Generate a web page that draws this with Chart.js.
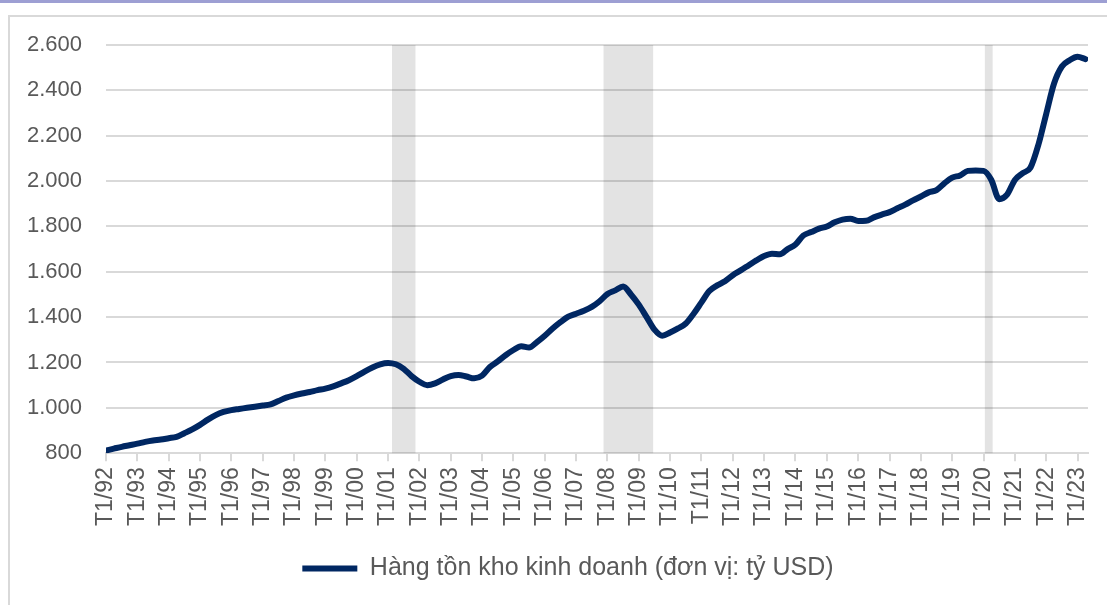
<!DOCTYPE html>
<html>
<head>
<meta charset="utf-8">
<script src="https://cdn.jsdelivr.net/npm/chart.js@4.4.0/dist/chart.umd.min.js"></script>
<style>
  html, body { margin: 0; padding: 0; background: #fff; }
  body { width: 1107px; height: 605px; position: relative; overflow: hidden; }
  #topbar { position: absolute; left: 0; top: 0; width: 1107px; height: 3px; background: #9d9fd3; }
  #frame { position: absolute; left: 8px; top: 15px; right: 0; bottom: 0; border-left: 2px solid #d9d9d9; border-top: 2px solid #d9d9d9; }
  #wrap { position: absolute; left: 0; top: 0; width: 1107px; height: 605px; }
</style>
</head>
<body>
<div id="topbar"></div>
<div id="frame"></div>
<div id="wrap"><canvas id="inventoryChart"></canvas></div>
<script>
// Quarterly readings (first month of each quarter)
const quarters = [
    '1992-01', '1992-04', '1992-07', '1992-10',
    '1993-01', '1993-04', '1993-07', '1993-10',
    '1994-01', '1994-04', '1994-07', '1994-10',
    '1995-01', '1995-04', '1995-07', '1995-10',
    '1996-01', '1996-04', '1996-07', '1996-10',
    '1997-01', '1997-04', '1997-07', '1997-10',
    '1998-01', '1998-04', '1998-07', '1998-10',
    '1999-01', '1999-04', '1999-07', '1999-10',
    '2000-01', '2000-04', '2000-07', '2000-10',
    '2001-01', '2001-04', '2001-07', '2001-10',
    '2002-01', '2002-04', '2002-07', '2002-10',
    '2003-01', '2003-04', '2003-07', '2003-10',
    '2004-01', '2004-04', '2004-07', '2004-10',
    '2005-01', '2005-04', '2005-07', '2005-10',
    '2006-01', '2006-04', '2006-07', '2006-10',
    '2007-01', '2007-04', '2007-07', '2007-10',
    '2008-01', '2008-04', '2008-07', '2008-10',
    '2009-01', '2009-04', '2009-07', '2009-10',
    '2010-01', '2010-04', '2010-07', '2010-10',
    '2011-01', '2011-04', '2011-07', '2011-10',
    '2012-01', '2012-04', '2012-07', '2012-10',
    '2013-01', '2013-04', '2013-07', '2013-10',
    '2014-01', '2014-04', '2014-07', '2014-10',
    '2015-01', '2015-04', '2015-07', '2015-10',
    '2016-01', '2016-04', '2016-07', '2016-10',
    '2017-01', '2017-04', '2017-07', '2017-10',
    '2018-01', '2018-04', '2018-07', '2018-10',
    '2019-01', '2019-04', '2019-07', '2019-10',
    '2020-01', '2020-04', '2020-07', '2020-10',
    '2021-01', '2021-04', '2021-07', '2021-10',
    '2022-01', '2022-04', '2022-07', '2022-10',
    '2023-01', '2023-04'
];

// Business inventories, billion USD
const inventories = [
    812, 820, 828, 835,
    842, 850, 856, 860,
    866, 872, 888, 905,
    925, 948, 968, 982,
    990, 995, 1000, 1005,
    1010, 1015, 1030, 1045,
    1055, 1063, 1070, 1078,
    1085, 1095, 1108, 1122,
    1140, 1160, 1178, 1192,
    1198, 1192, 1172, 1140,
    1115, 1100, 1108, 1125,
    1140, 1145, 1138, 1130,
    1142, 1180, 1205, 1232,
    1255, 1272, 1266, 1290,
    1318, 1350, 1378, 1402,
    1415, 1428, 1445, 1470,
    1502, 1518, 1535, 1500,
    1455, 1400, 1345, 1318,
    1332, 1350, 1372, 1415,
    1465, 1515, 1540, 1558,
    1585, 1606, 1628, 1650,
    1670, 1680, 1677, 1700,
    1720, 1760, 1775, 1790,
    1800, 1818, 1830, 1834,
    1824, 1825, 1840, 1852,
    1863, 1880, 1896, 1915,
    1932, 1950, 1960, 1990,
    2015, 2025, 2045, 2047,
    2045, 2005, 1920, 1940,
    2005, 2035, 2060, 2160,
    2296, 2430, 2505, 2533,
    2548, 2538
];

const yearLabels = [
    'T1/92', 'T1/93', 'T1/94', 'T1/95', 'T1/96', 'T1/97', 'T1/98', 'T1/99',
    'T1/00', 'T1/01', 'T1/02', 'T1/03', 'T1/04', 'T1/05', 'T1/06', 'T1/07',
    'T1/08', 'T1/09', 'T1/10', 'T1/11', 'T1/12', 'T1/13', 'T1/14', 'T1/15',
    'T1/16', 'T1/17', 'T1/18', 'T1/19', 'T1/20', 'T1/21', 'T1/22', 'T1/23'
];

// Recession periods (shaded)
const recessionStart = ['2001-03', '2007-12', '2020-02'];
const recessionEnd = ['2001-11', '2009-06', '2020-04'];

const lastMonth = '2023-05';

function monthIndex(s) {
    const [y, m] = s.split('-').map(Number);
    return (y - 1992) * 12 + (m - 1);
}

const recessionBands = {
    id: 'recessionBands',
    beforeDatasetsDraw(chart) {
        const { ctx, chartArea, scales: { x } } = chart;
        ctx.save();
        ctx.fillStyle = 'rgba(0, 0, 0, 0.11)';
        recessionStart.forEach((start, i) => {
            const x0 = x.getPixelForValue(monthIndex(start) - 0.5);
            const x1 = x.getPixelForValue(monthIndex(recessionEnd[i]) + 0.5);
            ctx.fillRect(x0, chartArea.top, x1 - x0, chartArea.bottom - chartArea.top);
        });
        ctx.restore();
    }
};

// legend sits a bit right of the canvas centre, as in the original
const legendShift = {
    id: 'legendShift',
    afterLayout(chart) {
        chart.legend.left += 24;
        chart.legend.right += 24;
    }
};

const fontFamily = '"Liberation Sans", Arial, sans-serif';

new Chart(document.getElementById('inventoryChart'), {
    type: 'line',
    data: {
        datasets: [{
            label: 'Hàng tồn kho kinh doanh (đơn vị: tỷ USD)',
            data: quarters.map((q, i) => ({ x: monthIndex(q), y: inventories[i] })),
            borderColor: '#002762',
            backgroundColor: '#002762',
            borderWidth: 6,
            borderCapStyle: 'round',
            borderJoinStyle: 'round',
            pointRadius: 0,
            cubicInterpolationMode: 'monotone',
            fill: false
        }]
    },
    options: {
        responsive: true,
        maintainAspectRatio: false,
        animation: false,
        layout: { padding: { top: 45, right: 19, bottom: 14, left: 0 } },
        plugins: {
            legend: {
                position: 'bottom',
                labels: {
                    usePointStyle: true,
                    pointStyle: 'line',
                    pointStyleWidth: 55,
                    color: '#595959',
                    font: { family: fontFamily, size: 25 }
                }
            },
            tooltip: { enabled: false }
        },
        scales: {
            x: {
                type: 'linear',
                min: 0,
                max: monthIndex(lastMonth),
                afterBuildTicks: scale => {
                    scale.ticks = yearLabels.map((_, i) => ({ value: i * 12 }));
                },
                afterFit: scale => {
                    scale.height += 14;
                    scale.paddingRight = 0;
                },
                ticks: {
                    autoSkip: false,
                    minRotation: 90,
                    maxRotation: 90,
                    padding: 6,
                    color: '#595959',
                    font: { family: fontFamily, size: 23 },
                    callback: value => yearLabels[value / 12]
                },
                grid: {
                    drawOnChartArea: false,
                    drawTicks: true,
                    tickLength: 8,
                    color: '#d9d9d9',
                    lineWidth: 2
                },
                border: { color: '#d9d9d9', width: 2 }
            },
            y: {
                min: 800,
                max: 2600,
                afterFit: scale => { scale.width = 106; },
                ticks: {
                    stepSize: 200,
                    padding: 24,
                    color: '#595959',
                    font: { family: fontFamily, size: 22 },
                    callback: value => String(value).replace(/\B(?=(\d{3})+(?!\d))/g, '.')
                },
                grid: {
                    drawTicks: false,
                    color: '#d9d9d9',
                    lineWidth: 2
                },
                border: { display: false }
            }
        }
    },
    plugins: [recessionBands, legendShift]
});
</script>
</body>
</html>
